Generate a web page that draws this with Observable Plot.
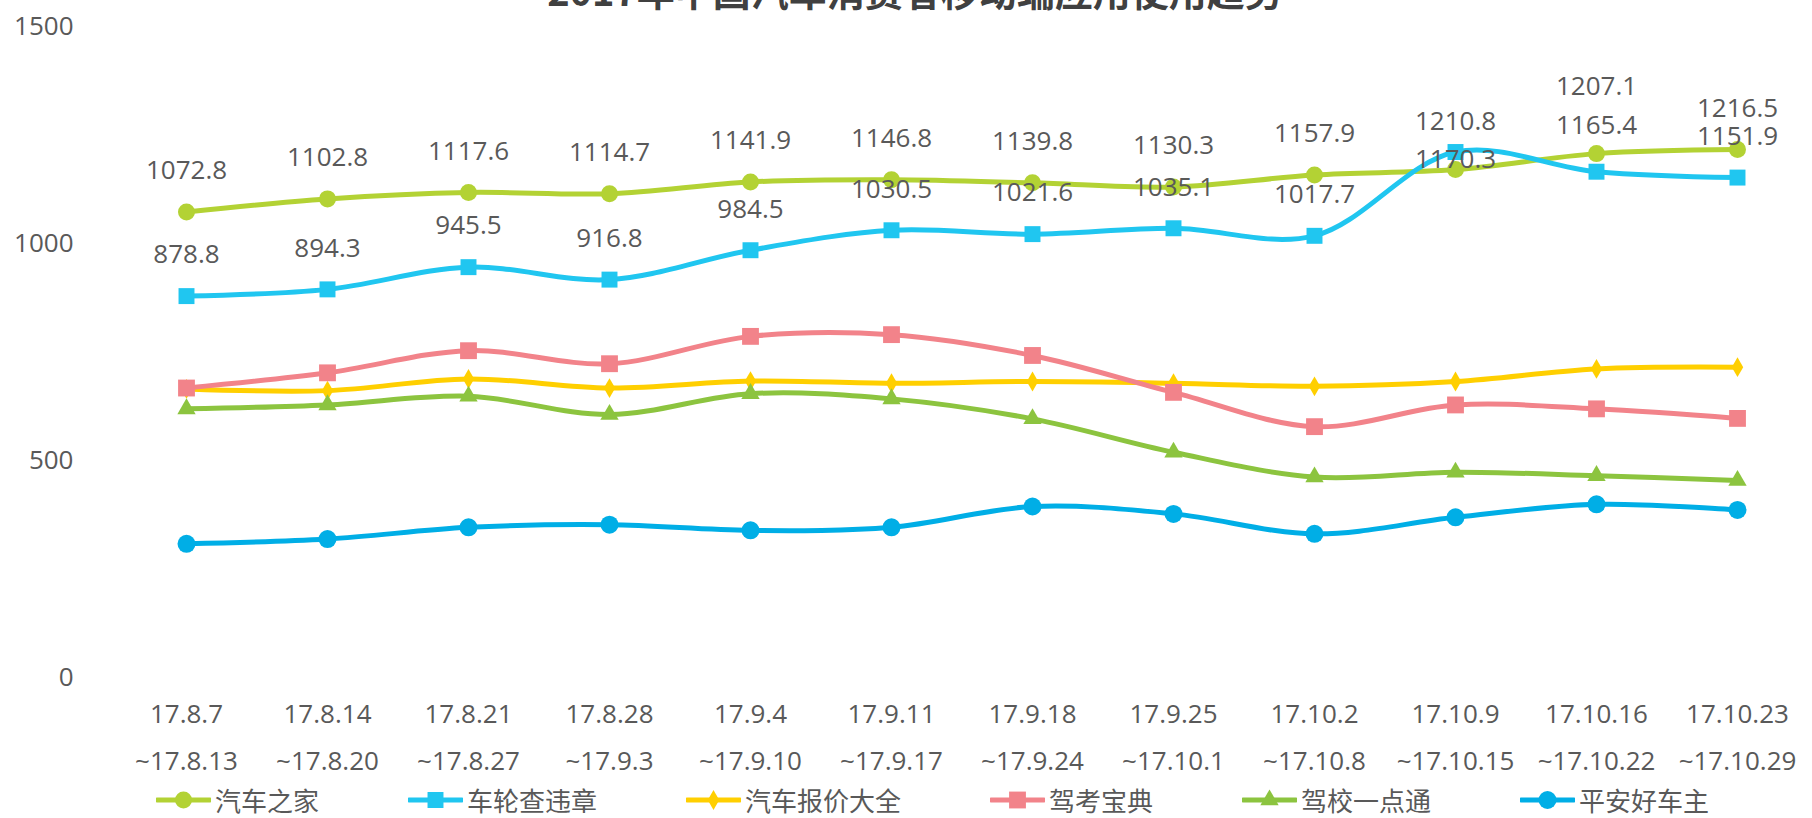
<!DOCTYPE html>
<html>
<head>
<meta charset="utf-8">
<script src="https://cdn.jsdelivr.net/npm/d3@7"></script>
<script src="https://cdn.jsdelivr.net/npm/@observablehq/plot@0.6"></script>
<style>
  html, body { margin: 0; padding: 0; background: #fff; overflow: hidden; }
  body { width: 1812px; height: 818px; position: relative; font-family: "Open Sans", "Noto Sans CJK SC", sans-serif; }
  #title { position: absolute; left: 0; width: 1830px; top: -29px; text-align: center; font-family: "Noto Sans CJK SC", sans-serif; font-weight: bold; font-size: 38px; line-height: 38px; color: #404040; white-space: nowrap; }
  #chart svg { display: block; }
  #legend { display: flex; align-items: center; height: 26px; margin-top: -3px; padding-left: 156px; gap: 89px; font-family: "Noto Sans CJK SC", sans-serif; font-size: 26px; line-height: 26px; color: #595959; }
  .item { display: flex; align-items: center; gap: 4px; white-space: nowrap; }
  .item svg { display: block; }
</style>
</head>
<body>
<div id="title"></div>
<div id="chart"></div>
<div id="legend"></div>
<script>
const titleText = "2017年中国汽车消费者移动端应用使用趋势";
const weekStarts = ["17.8.7","17.8.14","17.8.21","17.8.28","17.9.4","17.9.11","17.9.18","17.9.25","17.10.2","17.10.9","17.10.16","17.10.23"];
const weekEnds = ["~17.8.13","~17.8.20","~17.8.27","~17.9.3","~17.9.10","~17.9.17","~17.9.24","~17.10.1","~17.10.8","~17.10.15","~17.10.22","~17.10.29"];
const seriesNames = ["汽车之家","车轮查违章","汽车报价大全","驾考宝典","驾校一点通","平安好车主"];
const qicheZhijia = [1072.8, 1102.8, 1117.6, 1114.7, 1141.9, 1146.8, 1139.8, 1130.3, 1157.9, 1170.3, 1207.1, 1216.5];
const cheLun = [878.8, 894.3, 945.5, 916.8, 984.5, 1030.5, 1021.6, 1035.1, 1017.7, 1210.8, 1165.4, 1151.9];
const qicheBaojia = [665, 661, 688, 667, 683, 678, 682, 678, 671, 682, 711, 715];
const jiakaoBaodian = [667, 702, 753, 723, 786, 790, 742, 657, 578, 628, 619, 597];
const jiaxiaoYidian = [619, 628, 648, 606, 654, 642, 596, 519, 462, 473, 465, 454];
const pinganChezhu = [308, 319, 346, 352, 339, 346, 394, 377, 331, 369, 399, 386];
const yTicks = [0, 500, 1000, 1500];

const seriesValues = [qicheZhijia, cheLun, qicheBaojia, jiakaoBaodian, jiaxiaoYidian, pinganChezhu];
const colors = ["#b3d234", "#20c6f0", "#ffcf00", "#f2838a", "#8cc43f", "#00aee6"];
const symbols = ["circle", "square", "diamond", "square", "triangle", "circle"];
const radii = [8.5, 9, 6, 9.5, 6.8, 9];
const labeled = [true, true, false, false, false, false];

const weeks = weekStarts.map((s, i) => s + "\n" + weekEnds[i]);
const data = [];
seriesNames.forEach((name, si) => {
  seriesValues[si].forEach((v, i) => data.push({series: name, si, i, week: weeks[i], value: v}));
});

// label vertical offsets (px) — default above the point, nudged where labels collide
const defaultDy = -41;
const nudges = {"0|9": -10, "1|9": -30, "0|10": -67, "1|10": -46};
const labelData = data.filter(d => labeled[d.si]).map(d => ({...d, dy: nudges[d.si + "|" + d.i] ?? defaultDy}));
const dyGroups = Array.from(new Set(labelData.map(d => d.dy)));

const marks = [
  Plot.ruleY([0], {x1: weeks[0], x2: weeks[weeks.length-1], stroke: "#a6a6a6", strokeWidth: 2, insetLeft: -71, insetRight: -71}),
  Plot.axisY(yTicks, {tickSize: 0, tickPadding: 37, label: null, fontSize: 26, tickFormat: d => String(d)}),
  Plot.axisX({tickSize: 0, tickPadding: 12, label: null, fontSize: 26, lineHeight: 1.8})
];
seriesNames.forEach((name, si) => {
  const sd = data.filter(d => d.si === si);
  marks.push(Plot.line(sd, {x: "week", y: "value", stroke: colors[si], strokeWidth: 5, curve: "catmull-rom"}));
  marks.push(Plot.dot(sd, {x: "week", y: "value", symbol: symbols[si], r: radii[si], fill: colors[si], stroke: "none"}));
});
dyGroups.forEach(dy => {
  marks.push(Plot.text(labelData.filter(d => d.dy === dy), {x: "week", y: "value", text: d => d.value.toFixed(1), dy, fontSize: 26, fill: "#595959"}));
});

const chart = Plot.plot({
  width: 1812,
  height: 790,
  marginLeft: 110,
  marginRight: 0,
  marginTop: 26,
  marginBottom: 113,
  style: {fontFamily: "'Open Sans', 'Noto Sans CJK SC', sans-serif", fontSize: "26px", color: "#595959", background: "white", overflow: "visible"},
  x: {type: "point", domain: weeks, padding: 0.5, label: null},
  y: {domain: [0, 1500], label: null},
  marks
});
document.getElementById("chart").appendChild(chart);
document.getElementById("title").textContent = titleText;

// legend
const legend = document.getElementById("legend");
seriesNames.forEach((name, si) => {
  const item = document.createElement("div");
  item.className = "item";
  const svg = d3.create("svg").attr("width", 55).attr("height", 22);
  svg.append("line").attr("x1", 1).attr("x2", 54).attr("y1", 11).attr("y2", 11)
    .attr("stroke", colors[si]).attr("stroke-width", 5).attr("stroke-linecap", "round");
  const symMap = {circle: d3.symbolCircle, square: d3.symbolSquare, diamond: d3.symbolDiamond, triangle: d3.symbolTriangle};
  svg.append("path").attr("transform", "translate(27.5,11)")
    .attr("d", d3.symbol(symMap[symbols[si]], Math.PI * radii[si] * radii[si])())
    .attr("fill", colors[si]);
  item.appendChild(svg.node());
  const span = document.createElement("span");
  span.textContent = name;
  item.appendChild(span);
  legend.appendChild(item);
});
</script>
</body>
</html>
